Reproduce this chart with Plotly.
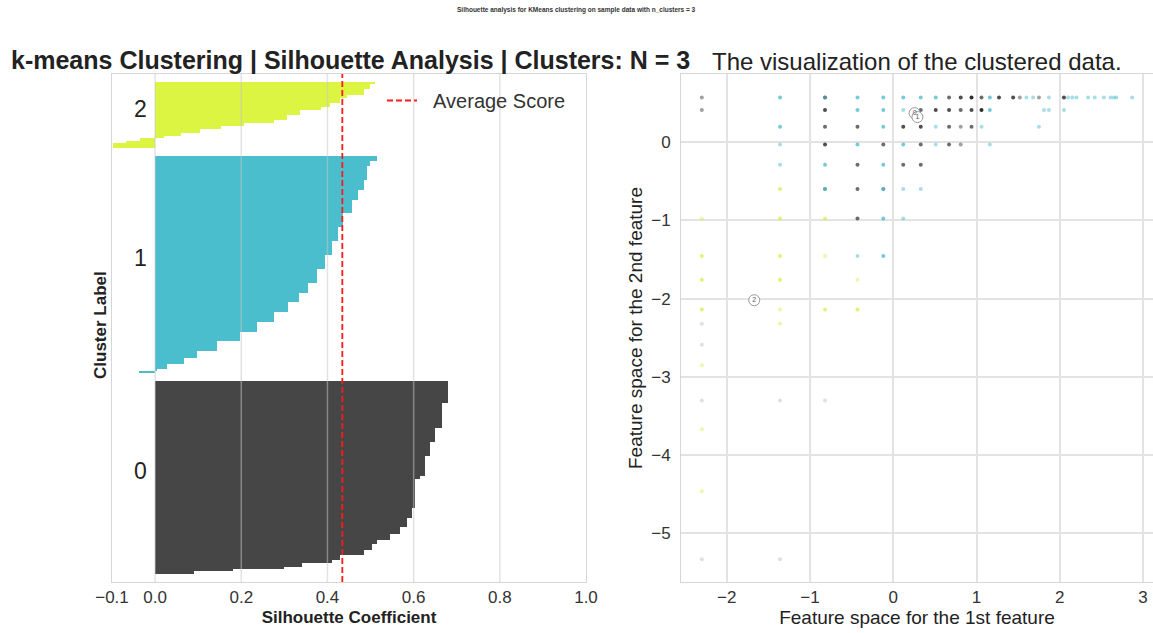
import plotly.graph_objects as go

# ---------------- data ----------------
# silhouette values per cluster (ascending, bottom -> top) and number of samples per step
SIL0_VALUES = [0.09, 0.18, 0.30, 0.34, 0.41, 0.43, 0.484, 0.503, 0.515, 0.546, 0.569, 0.584,
               0.596, 0.604, 0.615, 0.627, 0.638, 0.650, 0.666, 0.680]
SIL0_COUNTS = [3, 3, 3, 4, 4, 6, 6, 8, 4, 8, 8, 12, 12, 35, 4, 25, 17, 17, 30, 28]
SIL1_VALUES = [-0.038, 0.005, 0.028, 0.066, 0.098, 0.144, 0.198, 0.237, 0.275, 0.309, 0.333,
               0.356, 0.376, 0.395, 0.411, 0.425, 0.437, 0.457, 0.472, 0.484, 0.492, 0.499, 0.515]
SIL1_COUNTS = [2, 2, 6, 8, 8, 12, 12, 12, 12, 12, 12, 12, 17, 17, 17, 17, 17, 17, 12, 12, 17, 6, 6]
SIL2_VALUES = [-0.097, -0.068, -0.034, 0.020, 0.059, 0.105, 0.152, 0.206, 0.275, 0.306, 0.337,
               0.384, 0.407, 0.430, 0.445, 0.484, 0.499, 0.511]
SIL2_COUNTS = [6, 3, 3, 3, 4, 4, 4, 4, 4, 6, 6, 4, 4, 6, 4, 8, 6, 2]
AVG_SCORE = 0.4345
CLUSTER_LABELS = ["0", "1", "2"]
SIL_TICKS = [-0.1, 0.0, 0.2, 0.4, 0.6, 0.8, 1.0]
SIL_TICK_TEXT = ["\u22120.1", "0.0", "0.2", "0.4", "0.6", "0.8", "1.0"]

# scatter points: x, y, overlap count (0 = very faint)
C0_X = [-2.30, -0.82, 0.67, 0.81, 0.94, 1.06, 1.27, 1.44, 1.52, 1.75, 2.05,
        -2.30, -0.82, 0.33, 0.51, 0.67, 0.81, 0.94, 1.06,
        -0.82, -0.43, 0.12, 0.33, 0.67, 0.81, 0.94,
        -0.82, -0.12, 0.33, 0.67, 0.81,
        -0.43, 0.12, 0.33,
        -0.82, -0.43, -0.12,
        -0.43,
        -2.30, -2.30, -2.30, -1.36, -0.82, -2.30, -1.36]
C0_Y = [0.57, 0.57, 0.57, 0.57, 0.57, 0.57, 0.57, 0.57, 0.57, 0.57, 0.57,
        0.41, 0.41, 0.41, 0.41, 0.41, 0.41, 0.41, 0.41,
        0.195, 0.195, 0.195, 0.195, 0.195, 0.195, 0.195,
        -0.03, -0.03, -0.03, -0.03, -0.03,
        -0.29, -0.29, -0.29,
        -0.60, -0.60, -0.60,
        -0.975,
        -2.32, -2.59, -3.30, -3.30, -3.30, -5.33, -5.33]
C0_N = [1, 2, 2, 3, 4, 2, 3, 3, 1, 1, 3,
        1, 3, 2, 3, 3, 2, 3, 4,
        2, 2, 3, 3, 2, 1, 2,
        3, 2, 2, 2, 1,
        2, 2, 2,
        1, 2, 1,
        2,
        0, 0, 0, 0, 0, 0, 0]

C1_X = [-1.36, -0.82, -0.43, -0.12, 0.12, 0.33, 0.51, 1.16, 1.60, 1.68, 1.87, 2.10, 2.15, 2.20,
        2.34, 2.42, 2.53, 2.61, 2.65, 2.68, 2.87,
        -0.43, -0.12, 0.12, 1.16, 1.81, 1.87, 2.05,
        -1.36, -0.12, 0.51, 1.06, 1.75,
        -1.36, -0.43, 0.12, 0.51, 1.16,
        -1.36, -0.82, -0.12,
        -0.82, -0.12, 0.12, 0.33,
        -0.12, 0.12,
        -0.43, -0.12]
C1_Y = [0.57, 0.57, 0.57, 0.57, 0.57, 0.57, 0.57, 0.57, 0.57, 0.57, 0.57, 0.57, 0.57, 0.57,
        0.57, 0.57, 0.57, 0.57, 0.57, 0.57, 0.57,
        0.41, 0.41, 0.41, 0.41, 0.41, 0.41, 0.41,
        0.195, 0.195, 0.195, 0.195, 0.195,
        -0.03, -0.03, -0.03, -0.03, -0.03,
        -0.29, -0.29, -0.29,
        -0.60, -0.60, -0.60, -0.60,
        -0.975, -0.975,
        -1.456, -1.456]
C1_N = [2, 1, 2, 2, 2, 2, 2, 2, 1, 1, 1, 1, 1, 1,
        1, 1, 1, 1, 1, 1, 1,
        2, 2, 1, 2, 1, 1, 1,
        2, 2, 1, 1, 1,
        1, 2, 2, 1, 1,
        1, 2, 2,
        2, 2, 1, 1,
        2, 1,
        1, 2]

C2_X = [-1.36,
        -2.30, -1.36, -0.82,
        -2.30, -1.36, -0.82,
        -2.30, -1.36, -0.43,
        -2.30, -1.36, -0.82, -0.43,
        -1.36, -2.30, -2.30, -2.30]
C2_Y = [-0.60,
        -0.975, -0.975, -0.975,
        -1.456, -1.456, -1.456,
        -1.76, -1.76, -1.76,
        -2.14, -2.14, -2.14, -2.14,
        -2.32, -2.85, -3.67, -4.46]
C2_N = [2,
        1, 2, 2,
        2, 2, 1,
        2, 2, 1,
        2, 1, 2, 2,
        1, 1, 1, 1]

CENTER_X = [0.256, 0.29, -1.67]
CENTER_Y = [0.37, 0.32, -2.02]

# ---------------- styles ----------------
SIL_COLORS = ["#464646", "#4bbecd", "#dcf543"]
PT_COLORS = ["#2e2e2e", "#3db5c8", "#d2ef3a"]
OPAC = {0: 0.15, 1: 0.45, 2: 0.7, 3: 0.85, 4: 1.0}
FONT = "Arial, 'Liberation Sans', Helvetica, sans-serif"
GRID = "#e3e3e3"
FRAME = "#d6d6d6"

fig = go.Figure()

# silhouette bars
sil_values = [SIL0_VALUES, SIL1_VALUES, SIL2_VALUES]
sil_counts = [SIL0_COUNTS, SIL1_COUNTS, SIL2_COUNTS]
y_lower = 10
label_pos = []
for k in range(3):
    centers, widths = [], []
    start = y_lower
    for c in sil_counts[k]:
        centers.append(start + c / 2)
        widths.append(c)
        start += c
    size = sum(sil_counts[k])
    label_pos.append(y_lower + size / 2)
    fig.add_trace(go.Bar(x=sil_values[k], y=centers, width=widths, orientation="h",
                         marker=dict(color=SIL_COLORS[k], line=dict(width=0)),
                         showlegend=False, xaxis="x", yaxis="y", hoverinfo="skip"))
    y_lower = start + 10
y_top = y_lower  # N + 40

fig.add_trace(go.Scatter(x=[AVG_SCORE, AVG_SCORE], y=[0, y_top], mode="lines",
                         line=dict(color="#ff1a1a", dash="6px,3px", width=1.8),
                         name="\u00a0\u00a0Average Score", xaxis="x", yaxis="y", showlegend=True))

# scatter
for xs, ys, ns, col in [(C0_X, C0_Y, C0_N, PT_COLORS[0]), (C1_X, C1_Y, C1_N, PT_COLORS[1]),
                        (C2_X, C2_Y, C2_N, PT_COLORS[2])]:
    fig.add_trace(go.Scatter(x=xs, y=ys, mode="markers", xaxis="x2", yaxis="y2",
                             marker=dict(color=col, size=4, opacity=[OPAC[n] for n in ns],
                                         line=dict(width=0)),
                             showlegend=False))
fig.add_trace(go.Scatter(x=CENTER_X, y=CENTER_Y, mode="markers+text", xaxis="x2", yaxis="y2",
                         text=CLUSTER_LABELS, textposition="middle center",
                         textfont=dict(size=7, color="#555"),
                         marker=dict(color="white", size=11, line=dict(color="#999", width=1)),
                         showlegend=False))

# vertical grid lines of the silhouette plot, drawn over the bars
shapes = []
for t in SIL_TICKS[1:-1]:
    shapes.append(dict(type="line", xref="x", yref="y domain", x0=t, x1=t, y0=0, y1=1,
                       line=dict(color="rgba(200,200,200,0.5)", width=1.5), layer="above"))

# cluster labels on silhouette plot
annotations = []
for k in range(3):
    annotations.append(dict(x=-0.034, y=label_pos[k], xref="x", yref="y", text=CLUSTER_LABELS[k],
                            showarrow=False, font=dict(size=23, color="#222"), yshift=6))

annotations += [
    dict(x=0.5, y=1 - 10 / 633, xref="paper", yref="paper", showarrow=False,
         xanchor="center", yanchor="middle",
         text="<b>Silhouette analysis for KMeans clustering on sample data with n_clusters = 3</b>",
         font=dict(size=6.5, color="#333")),
    dict(x=350 / 1153, y=1 - 60 / 633, xref="paper", yref="paper", showarrow=False,
         xanchor="center", yanchor="middle",
         text="<b>k-means Clustering | Silhouette Analysis | Clusters: N = 3</b>",
         font=dict(size=25, color="#222")),
    dict(x=917 / 1153, y=1 - 61 / 633, xref="paper", yref="paper", showarrow=False,
         xanchor="center", yanchor="middle",
         text="The visualization of the clustered data.",
         font=dict(size=24, color="#222")),
    dict(x=100 / 1153, y=1 - 325 / 633, xref="paper", yref="paper", showarrow=False,
         xanchor="center", yanchor="middle",
         text="<b>Cluster Label</b>", textangle=-90, font=dict(size=17, color="#222")),
]

ydom = [1 - 582 / 633, 1 - 74 / 633]
axis_common = dict(showline=True, linecolor=FRAME, linewidth=1, mirror=True, gridcolor=GRID,
                   gridwidth=1.5, zeroline=False, ticks="", automargin=False,
                   tickfont=dict(size=17, color="#333"))

fig.update_layout(
    width=1153, height=633, margin=dict(l=0, r=0, t=0, b=0, autoexpand=False),
    paper_bgcolor="white", plot_bgcolor="white", font=dict(family=FONT),
    bargap=0, shapes=shapes,
    xaxis=dict(domain=[112 / 1153, 586 / 1153], range=[-0.1, 1.0], anchor="y",
               tickvals=SIL_TICKS, ticktext=SIL_TICK_TEXT, showgrid=False,
               title=dict(text="<b>Silhouette Coefficient</b>", font=dict(size=17, color="#222"),
                          standoff=4),
               ticklabelstandoff=0,
               **{k: v for k, v in axis_common.items() if k != "gridcolor"}),
    yaxis=dict(domain=ydom, range=[0, y_top], anchor="x", showticklabels=False,
               showgrid=False, **{k: v for k, v in axis_common.items() if k != "gridcolor"}),
    xaxis2=dict(domain=[681 / 1153, 1.0], range=[-2.55, 3.12], anchor="y2",
                tickvals=[-2, -1, 0, 1, 2, 3],
                title=dict(text="Feature space for the 1st feature", font=dict(size=19, color="#222"),
                           standoff=4),
                ticklabelstandoff=0, **axis_common),
    yaxis2=dict(domain=ydom, range=[-5.62, 0.87], anchor="x2",
                tickvals=[0, -1, -2, -3, -4, -5],
                title=dict(text="Feature space for the 2nd feature", font=dict(size=19, color="#222"),
                           standoff=3),
                ticklabelstandoff=6, **axis_common),
    legend=dict(x=382 / 1153, y=1 - 81 / 633, xanchor="left", yanchor="top",
                bgcolor="rgba(0,0,0,0)", font=dict(size=20, color="#333")),
    annotations=annotations,
)

fig.write_html("out.html")
